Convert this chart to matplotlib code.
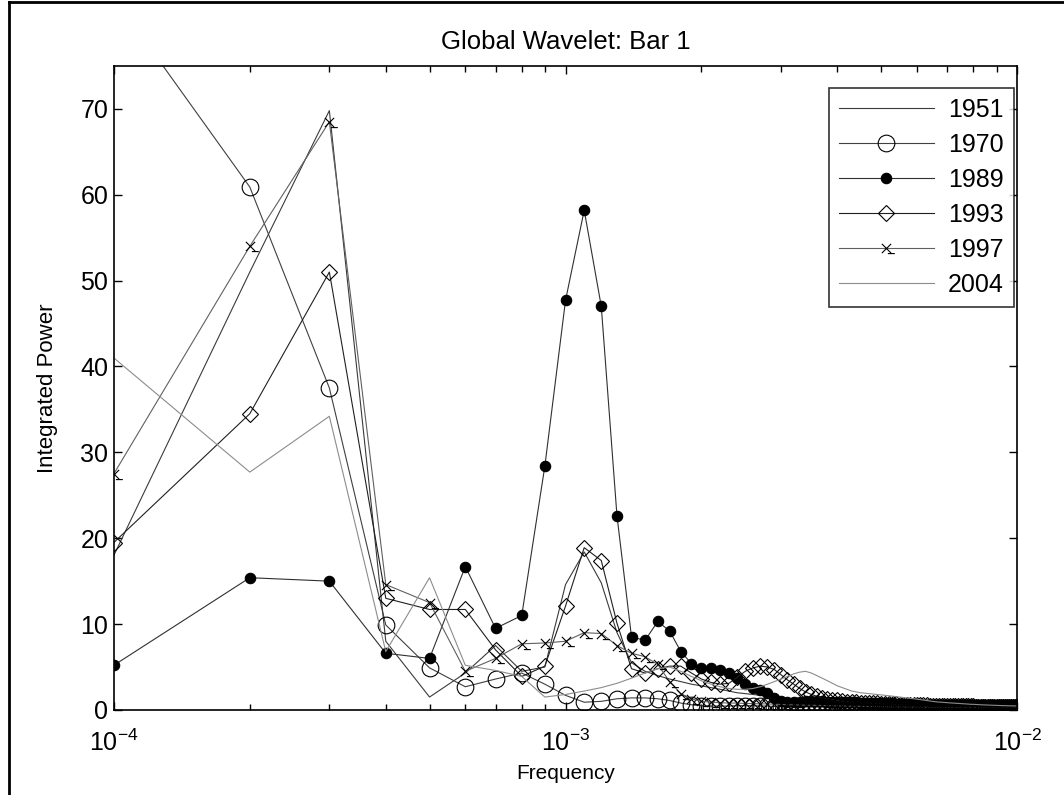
import numpy as np
import matplotlib
matplotlib.use("Agg")
import matplotlib.pyplot as plt
from matplotlib.lines import Line2D
from matplotlib.path import Path
from matplotlib.ticker import LogLocator, NullFormatter, FixedLocator

plt.rcParams['font.family'] = ['Liberation Sans', 'DejaVu Sans']
plt.rcParams['mathtext.fontset'] = 'custom'
plt.rcParams['mathtext.rm'] = 'Liberation Sans'
plt.rcParams['mathtext.default'] = 'regular'

# frequency grid: 1e-4 ... 1e-2 in steps of 1e-4
freq = np.arange(1, 101) * 1e-4

years = ['1951', '1970', '1989', '1993', '1997', '2004']

p1951 = [18.0, 51.0, 69.8, 8.0, 1.5, 4.3, 7.5, 4.5, 5.0, 14.6,
         18.4, 14.8, 9.0, 5.5, 4.5, 4.0, 3.6, 3.3, 3.0, 2.8,
         2.6, 2.4, 2.2, 2.0, 1.9, 1.8, 1.7, 1.6, 1.5, 1.4,
         1.3, 1.3, 1.2, 1.2, 1.1, 1.1, 1.0, 1.0, 0.95, 0.9,
         0.9, 0.85, 0.85, 0.8, 0.8, 0.75, 0.75, 0.7, 0.7, 0.7,
         0.65, 0.65, 0.65, 0.6, 0.6, 0.6, 0.6, 0.55, 0.55, 0.55,
         0.55, 0.5, 0.5, 0.5, 0.5, 0.5, 0.48, 0.48, 0.46, 0.46,
         0.45, 0.45, 0.44, 0.44, 0.43, 0.43, 0.42, 0.42, 0.41, 0.41,
         0.4, 0.4, 0.4, 0.39, 0.39, 0.38, 0.38, 0.38, 0.37, 0.37,
         0.37, 0.36, 0.36, 0.36, 0.35, 0.35, 0.35, 0.34, 0.34, 0.34]

p1970 = [83.0, 60.9, 37.5, 9.9, 4.9, 2.7, 3.6, 4.3, 3.0, 1.7,
         0.9, 1.0, 1.3, 1.4, 1.4, 1.3, 1.1, 0.8, 0.6, 0.5,
         0.45, 0.45, 0.45, 0.5, 0.5, 0.5, 0.45, 0.45, 0.4, 0.4,
         0.4, 0.4, 0.38, 0.38, 0.36, 0.36, 0.35, 0.35, 0.34, 0.34,
         0.33, 0.33, 0.32, 0.32, 0.31, 0.31, 0.3, 0.3, 0.3, 0.29,
         0.29, 0.29, 0.28, 0.28, 0.28, 0.27, 0.27, 0.27, 0.26, 0.26,
         0.26, 0.26, 0.25, 0.25, 0.25, 0.25, 0.24, 0.24, 0.24, 0.24,
         0.23, 0.23, 0.23, 0.23, 0.23, 0.22, 0.22, 0.22, 0.22, 0.22,
         0.21, 0.21, 0.21, 0.21, 0.21, 0.21, 0.2, 0.2, 0.2, 0.2,
         0.2, 0.2, 0.2, 0.19, 0.19, 0.19, 0.19, 0.19, 0.19, 0.19]

p1989 = [5.2, 15.4, 15.0, 6.6, 6.0, 16.7, 9.5, 11.0, 28.4, 47.7,
         58.2, 47.0, 22.6, 8.5, 8.1, 10.3, 9.2, 6.8, 5.4, 4.9,
         4.9, 4.7, 4.3, 3.7, 3.0, 2.6, 2.3, 2.0, 1.4, 1.0,
         0.95, 0.95, 0.95, 1.0, 1.0, 1.0, 1.0, 0.95, 0.95, 0.95,
         0.9, 0.9, 0.9, 0.9, 0.85, 0.85, 0.85, 0.8, 0.8, 0.8,
         0.75, 0.75, 0.75, 0.7, 0.7, 0.7, 0.7, 0.65, 0.65, 0.65,
         0.65, 0.6, 0.6, 0.6, 0.6, 0.58, 0.58, 0.56, 0.56, 0.55,
         0.55, 0.54, 0.54, 0.53, 0.53, 0.52, 0.52, 0.51, 0.51, 0.5,
         0.5, 0.5, 0.49, 0.49, 0.48, 0.48, 0.48, 0.47, 0.47, 0.47,
         0.46, 0.46, 0.46, 0.45, 0.45, 0.45, 0.44, 0.44, 0.44, 0.44]

p1993 = [19.5, 34.5, 51.0, 13.0, 11.7, 11.7, 7.0, 3.9, 5.1, 12.1,
         18.9, 17.4, 10.1, 4.8, 4.3, 4.8, 5.1, 5.1, 4.3, 3.6,
         3.2, 3.0, 3.1, 3.8, 4.5, 4.9, 5.1, 5.0, 4.7, 4.1,
         3.5, 3.0, 2.5, 2.1, 1.8, 1.6, 1.4, 1.3, 1.2, 1.1,
         1.0, 0.95, 0.9, 0.9, 0.85, 0.8, 0.8, 0.75, 0.75, 0.7,
         0.7, 0.68, 0.66, 0.64, 0.62, 0.6, 0.6, 0.58, 0.56, 0.55,
         0.54, 0.53, 0.52, 0.51, 0.5, 0.5, 0.49, 0.48, 0.47, 0.46,
         0.45, 0.45, 0.44, 0.44, 0.43, 0.43, 0.42, 0.42, 0.41, 0.41,
         0.4, 0.4, 0.4, 0.39, 0.39, 0.38, 0.38, 0.38, 0.37, 0.37,
         0.37, 0.36, 0.36, 0.36, 0.35, 0.35, 0.35, 0.34, 0.34, 0.34]

p1997 = [27.5, 54.0, 68.5, 14.6, 12.5, 4.5, 6.0, 7.7, 7.8, 8.0,
         9.0, 8.9, 7.5, 6.6, 6.2, 5.3, 3.3, 1.9, 1.3, 1.0,
         0.9, 0.85, 0.8, 0.8, 0.75, 0.75, 0.7, 0.7, 0.65, 0.65,
         0.6, 0.6, 0.58, 0.56, 0.55, 0.54, 0.52, 0.5, 0.5, 0.48,
         0.47, 0.46, 0.45, 0.44, 0.43, 0.42, 0.41, 0.4, 0.4, 0.39,
         0.38, 0.38, 0.37, 0.37, 0.36, 0.36, 0.35, 0.35, 0.34, 0.34,
         0.34, 0.33, 0.33, 0.33, 0.32, 0.32, 0.32, 0.31, 0.31, 0.31,
         0.31, 0.3, 0.3, 0.3, 0.3, 0.3, 0.29, 0.29, 0.29, 0.29,
         0.29, 0.28, 0.28, 0.28, 0.28, 0.28, 0.28, 0.27, 0.27, 0.27,
         0.27, 0.27, 0.27, 0.26, 0.26, 0.26, 0.26, 0.26, 0.26, 0.26]

p2004 = [41.0, 27.7, 34.2, 6.8, 15.4, 5.2, 4.6, 3.9, 1.5, 1.8,
         2.2, 2.6, 3.1, 3.7, 4.3, 4.8, 5.0, 4.5, 3.9, 3.4,
         3.0, 2.7, 2.5, 2.4, 2.4, 2.5, 2.7, 3.0, 3.3, 3.6,
         3.9, 4.2, 4.4, 4.5, 4.3, 4.0, 3.7, 3.4, 3.1, 2.8,
         2.6, 2.4, 2.2, 2.1, 2.0, 1.95, 1.9, 1.85, 1.8, 1.75,
         1.7, 1.65, 1.6, 1.55, 1.5, 1.45, 1.4, 1.35, 1.3, 1.25,
         1.2, 1.15, 1.1, 1.05, 1.0, 0.95, 0.92, 0.9, 0.87, 0.85,
         0.82, 0.8, 0.78, 0.76, 0.74, 0.72, 0.7, 0.68, 0.66, 0.65,
         0.64, 0.62, 0.6, 0.59, 0.58, 0.57, 0.56, 0.55, 0.54, 0.53,
         0.52, 0.51, 0.5, 0.5, 0.49, 0.48, 0.48, 0.47, 0.47, 0.46]

series = [p1951, p1970, p1989, p1993, p1997, p2004]

# cross with a short trailing dash, as the 1997 marker is drawn
cross_dash = Path([(-1, 1), (1, -1), (-1, -1), (1, 1), (0.3, -1.1), (1.8, -1.1)],
                  [Path.MOVETO, Path.LINETO, Path.MOVETO, Path.LINETO,
                   Path.MOVETO, Path.LINETO])

# line style per year: (line colour, marker, marker size, marker fill)
styles = {
    '1951': ('#3a3a3a', 'None', 0, 'none'),
    '1970': ('#404040', 'o', 12, 'none'),
    '1989': ('#303030', 'o', 7.5, 'black'),
    '1993': ('#202020', 'D', 8.5, 'none'),
    '1997': ('#606060', cross_dash, 12, 'none'),
    '2004': ('#8c8c8c', 'None', 0, 'none'),
}

fig = plt.figure(figsize=(10.64, 7.95), dpi=100)
ax = fig.add_axes([0.107, 0.107, 0.849, 0.81])

for year, vals in zip(years, series):
    color, marker, ms, face = styles[year]
    ax.plot(freq, vals, color=color, lw=0.8, marker=marker, markersize=ms,
            markerfacecolor=face, markeredgecolor='black', markeredgewidth=0.8,
            label=year)

ax.set_xscale('log')
ax.set_xlim(1e-4, 1e-2)
ax.set_ylim(0, 75)
ax.set_yticks(range(0, 71, 10))
ax.xaxis.set_major_locator(FixedLocator([1e-4, 1e-3, 1e-2]))
ax.xaxis.set_minor_locator(LogLocator(base=10, subs=np.arange(2, 10)))
ax.xaxis.set_minor_formatter(NullFormatter())
ax.set_xticklabels([r'$10^{-4}$', r'$10^{-3}$', r'$10^{-2}$'])

ax.tick_params(axis='both', which='major', direction='in', length=6,
               width=1, top=True, right=True, labelsize=18)
ax.tick_params(axis='x', which='major', pad=14)
ax.tick_params(axis='y', which='major', pad=4)
ax.tick_params(axis='x', which='minor', direction='in', length=4,
               width=1, top=True, bottom=True)
for sp in ax.spines.values():
    sp.set_linewidth(1.2)

ax.set_title('Global Wavelet: Bar 1', fontsize=18.5, pad=12)
ax.set_xlabel('Frequency', fontsize=15, labelpad=6)
ax.set_ylabel('Integrated Power', fontsize=16, labelpad=16)

leg = ax.legend(loc='upper right', bbox_to_anchor=(0.996, 0.966),
                borderaxespad=0, fontsize=18, frameon=True, fancybox=False,
                handlelength=3.8, labelspacing=0.44, borderpad=0.4,
                handletextpad=0.55)
leg.get_frame().set_edgecolor('black')
leg.get_frame().set_linewidth(1.2)

# outer frame lines along the left and top edges
fig.add_artist(Line2D([0.008, 0.008], [0, 0.998], transform=fig.transFigure,
                      color='black', lw=2))
fig.add_artist(Line2D([0.008, 1.0], [0.998, 0.998], transform=fig.transFigure,
                      color='black', lw=2))

fig.savefig('out.png', dpi=100)
